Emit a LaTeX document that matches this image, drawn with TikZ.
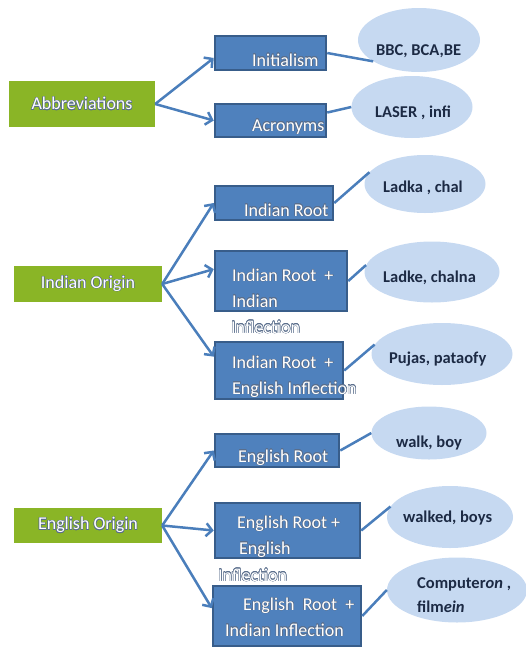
\documentclass[tikz,border=0pt]{standalone}
\usepackage{fontspec}
\setmainfont{Carlito}
\usepackage{tikz}
\usepackage[copies]{contour}
\usetikzlibrary{arrows.meta,shapes.geometric}
\definecolor{leafgreen}{HTML}{8AB526}
\definecolor{boxblue}{HTML}{4F81BD}
\definecolor{boxedge}{HTML}{385D8A}
\definecolor{ovalblue}{HTML}{C6D9F1}
\definecolor{linkblue}{HTML}{4A7EBB}
\definecolor{inktext}{HTML}{1C2A44}
\definecolor{shadowink}{HTML}{5A6E8C}
\contourlength{0.45pt}
\newcommand{\outl}[1]{\contour[12]{shadowink}{#1}}
\tikzset{
  originbox/.style={fill=leafgreen, draw=none, text=white, inner sep=0pt, font=\fontsize{18}{20}\selectfont},
  typebox/.style={fill=boxblue, draw=boxedge, line width=2.5pt, inner sep=0pt},
  typetext/.style={anchor=base west, text=white, inner sep=0pt, align=left, font=\fontsize{18}{25.5}\selectfont},
  example/.style={ellipse, fill=ovalblue, draw=none, inner sep=0pt},
  exampletext/.style={anchor=base west, text=inktext, inner sep=0pt, align=left, font=\bfseries\fontsize{16.5}{24}\selectfont},
  branch/.style={-{Straight Barb[length=6pt,width=13pt]}, draw=linkblue, line width=2.5pt},
  link/.style={draw=linkblue, line width=2.5pt}
}
\begin{document}
\begin{tikzpicture}[x=1pt,y=-1pt]
\useasboundingbox (0,0) rectangle (526,648);
% origins
\node[originbox, minimum width=146, minimum height=46] (abbr) at (82,104) {\outl{Abbreviations}};
\node[originbox, minimum width=148, minimum height=36] (indorig) at (88,284) {\outl{Indian Origin}};
\node[originbox, minimum width=148, minimum height=35] (engorig) at (88,525.5) {\outl{English Origin}};
% word types
\node[typebox, minimum width=111, minimum height=34] (init) at (270.5,53) {};
\node[typebox, minimum width=111, minimum height=33] (acro) at (270.5,120.5) {};
\node[typebox, minimum width=118, minimum height=34] (iroot) at (274,203) {};
\node[typebox, minimum width=132, minimum height=60] (iri) at (281,281) {};
\node[typebox, minimum width=128, minimum height=57] (irei) at (279,370.5) {};
\node[typebox, minimum width=124, minimum height=33] (eroot) at (277,450.5) {};
\node[typebox, minimum width=145, minimum height=55] (ere) at (287.5,530.5) {};
\node[typebox, minimum width=148, minimum height=60] (erii) at (287,616) {};
\node[typetext] (init-txt) at (252,66) {\outl{Initialism}};
\node[typetext] (acro-txt) at (252,131) {\outl{Acronyms}};
\node[typetext] (iroot-txt) at (244,216) {\outl{Indian Root}};
\node[typetext] (iri-txt) at (232,307) {\outl{Indian Root~~+}\\\outl{Indian}};
\node[typetext] (iri-spill) at (231,333) {\outl{Inflection}};
\node[typetext] (irei-txt) at (232,394) {\outl{Indian Root~~+}\\\outl{English Inflection}};
\node[typetext] (eroot-txt) at (238,462) {\outl{English Root}};
\node[typetext] (ere-txt) at (237,554) {\outl{English Root +}\\\hspace{2pt}\outl{English}};
\node[typetext] (ere-spill) at (218,581) {\outl{Inflection}};
\node[typetext] (erii-txt) at (225,636) {\hspace{18pt}\outl{English~~Root~~+}\\\outl{Indian Inflection}};
% examples
\node[example, minimum width=122, minimum height=64] (bbc) at (419,40) {};
\node[example, minimum width=121, minimum height=62] (laser) at (412,107) {};
\node[example, minimum width=121, minimum height=58] (ladka) at (425,184) {};
\node[example, minimum width=135, minimum height=61] (ladke) at (432,272) {};
\node[example, minimum width=141, minimum height=62] (pujas) at (442,354) {};
\node[example, minimum width=115, minimum height=53] (walk) at (429,433) {};
\node[example, minimum width=126, minimum height=62] (walked) at (450,517) {};
\node[example, minimum width=140, minimum height=65] (comp) at (457,590) {};
\node[exampletext] (bbc-txt) at (376,55) {BBC, BCA,BE};
\node[exampletext] (laser-txt) at (375,117) {LASER , infi};
\node[exampletext] (ladka-txt) at (383,192) {Ladka , chal};
\node[exampletext] (ladke-txt) at (383,282) {Ladke, chalna};
\node[exampletext] (pujas-txt) at (389,363) {Pujas, pataofy};
\node[exampletext] (walk-txt) at (396,447) {walk, boy};
\node[exampletext] (walked-txt) at (403,522) {walked, boys};
\node[exampletext] (comp-txt) at (417,612) {Computer\textit{on} ,\\film\textit{ein}};
% branches
\draw[branch] (abbr.east) -- (init.185);
\draw[branch] (abbr.east) -- (acro.west);
\draw[branch] (indorig.east) -- (iroot.west);
\draw[branch] (indorig.east) -- (iri.170);
\draw[branch] (indorig.east) -- (irei.168);
\draw[branch] (engorig.east) -- (eroot.west);
\draw[branch] (engorig.east) -- (ere.west);
\draw[branch] (engorig.east) -- (erii.174);
% links to examples
\draw[link] (init.east) -- (bbc.205);
\draw[link] (acro.8) -- (laser.west);
\draw[link] (iroot.east) -- (ladka.168);
\draw[link] (iri.east) -- (ladke.174);
\draw[link] (irei.east) -- (pujas.172);
\draw[link] (eroot.east) -- (walk.west);
\draw[link] (ere.east) -- (walked.170);
\draw[link] (erii.east) -- (comp.west);
\end{tikzpicture}
\end{document}
